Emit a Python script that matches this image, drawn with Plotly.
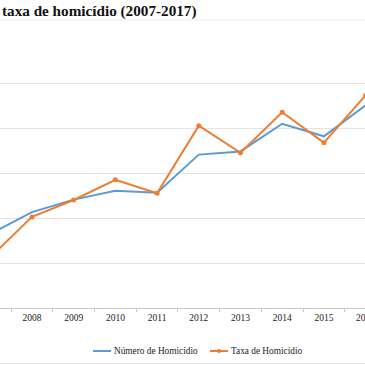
import plotly.graph_objects as go

years = [2007, 2008, 2009, 2010, 2011, 2012, 2013, 2014, 2015, 2016, 2017]
numero = [48219, 50659, 52043, 53016, 52807, 57045, 57396, 60474, 59080, 62517, 65602]
taxa = [25.5, 26.7, 27.2, 27.8, 27.4, 29.4, 28.6, 29.8, 28.9, 30.3, 31.6]
series_names = ["Número de Homicídio", "Taxa de Homicídio"]
title_text = "taxa de homicídio (2007-2017)"

BLUE = "#5B9BD5"
ORANGE = "#ED7D31"
SERIF = "Liberation Serif"

W, H = 365, 365
top, bottom = 38, 308
ph = bottom - top
XR = [2007.233, 2015.986]


def py(p):
    return (bottom - p) / ph


fig = go.Figure()
fig.add_trace(go.Scatter(x=years, y=numero, name=series_names[0], mode="lines",
                         line=dict(color=BLUE, width=2), yaxis="y", showlegend=False))
fig.add_trace(go.Scatter(x=years, y=taxa, name=series_names[1], mode="lines+markers",
                         line=dict(color=ORANGE, width=2),
                         marker=dict(color=ORANGE, size=5), yaxis="y2", showlegend=False))

shapes = [
    dict(type="line", xref="paper", yref="paper", x0=0, x1=1, y0=py(20), y1=py(20),
         line=dict(color="#f0f0f0", width=1)),
    dict(type="line", xref="paper", yref="paper", x0=0, x1=1, y0=py(363.5), y1=py(363.5),
         line=dict(color="#e3e3e3", width=1)),
    # legend symbols
    dict(type="line", xref="paper", yref="paper", x0=93 / W, x1=111 / W, y0=py(351), y1=py(351),
         line=dict(color=BLUE, width=2)),
    dict(type="line", xref="paper", yref="paper", x0=210 / W, x1=228 / W, y0=py(351), y1=py(351),
         line=dict(color=ORANGE, width=2)),
    dict(type="circle", xref="paper", yref="paper", x0=217 / W, x1=221 / W, y0=py(353), y1=py(349),
         fillcolor=ORANGE, line=dict(color=ORANGE, width=0)),
]

annotations = [
    dict(text=series_names[0], xref="paper", yref="paper", x=112 / W, y=py(351),
         xanchor="left", yanchor="middle", showarrow=False,
         font=dict(family=SERIF, size=9.3, color="#222222")),
    dict(text=series_names[1], xref="paper", yref="paper", x=229 / W, y=py(351),
         xanchor="left", yanchor="middle", showarrow=False,
         font=dict(family=SERIF, size=9.3, color="#222222")),
    dict(text="<b>" + title_text + "</b>", xref="paper", yref="paper", x=0, y=py(11),
         xanchor="left", yanchor="middle", showarrow=False,
         font=dict(family=SERIF, size=15.2, color="#111111")),
    # 2016 label, partially off canvas (plotly hides tick labels outside range)
    dict(text=str(years[9]), xref="paper", yref="paper",
         x=(years[9] - XR[0]) / (XR[1] - XR[0]), y=py(318),
         xanchor="center", yanchor="middle", showarrow=False,
         font=dict(family=SERIF, size=9.5, color="#222222")),
]

fig.update_layout(
    width=W, height=H,
    font=dict(family=SERIF),
    margin=dict(l=0, r=0, t=top, b=H - bottom, pad=0),
    paper_bgcolor="white", plot_bgcolor="white",
    xaxis=dict(range=XR, tickvals=years, ticktext=[str(y) for y in years],
               ticks="", showgrid=False, zeroline=False,
               showline=True, linecolor="#c8c8c8", linewidth=1,
               tickfont=dict(family=SERIF, size=9.5, color="#222222"),
               ticklabelstandoff=1,
               minor=dict(ticks="outside", tick0=2007.5, dtick=1, ticklen=3,
                          tickcolor="#c8c8c8", showgrid=False)),
    yaxis=dict(range=[40000, 70000], dtick=5000, showgrid=True, gridcolor="#e3e3e3",
               gridwidth=1, showticklabels=False, zeroline=False, showline=False, ticks=""),
    yaxis2=dict(range=[24, 32], overlaying="y", side="right", showgrid=False,
                showticklabels=False, zeroline=False, showline=False, ticks=""),
    shapes=shapes,
    annotations=annotations,
)

fig.write_html("out.html", config={"displayModeBar": False},
               post_script="document.body.style.margin='0';document.body.style.overflow='hidden';")
